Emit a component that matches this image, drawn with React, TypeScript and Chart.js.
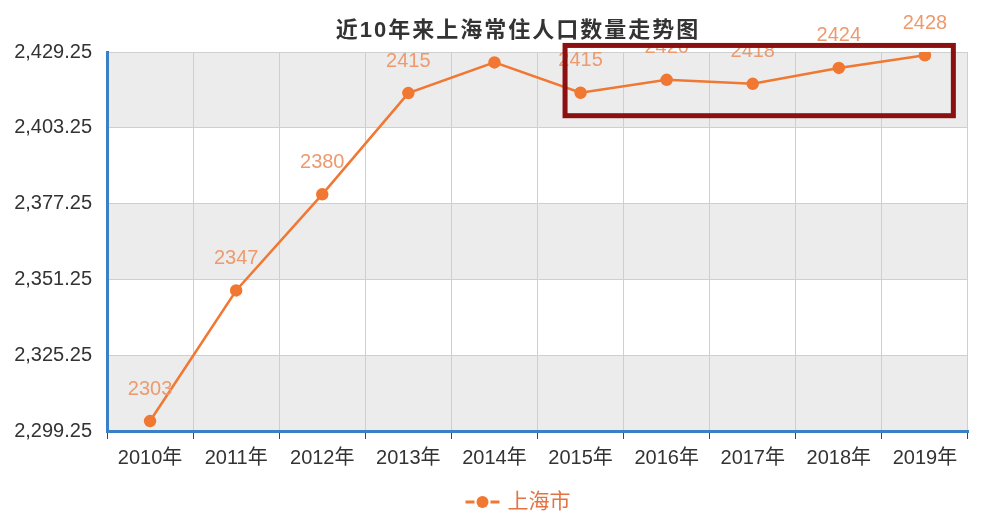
import React, { useEffect, useRef } from "react";
import { Chart, registerables } from "chart.js";

Chart.register(...registerables);

// ---- data ----
const years = ["2010年", "2011年", "2012年", "2013年", "2014年", "2015年", "2016年", "2017年", "2018年", "2019年"];
const population = [2302.66, 2347.46, 2380.43, 2415.15, 2425.68, 2415.27, 2419.7, 2418.33, 2423.78, 2428.14];
const yTicks = [2299.25, 2325.25, 2351.25, 2377.25, 2403.25, 2429.25];
const seriesName = "上海市";
const chartTitle = "近10年来上海常住人口数量走势图";
// highlighted region (category index range, value range)
const highlightX = [4.82, 9.33];
const highlightY = [2407.4, 2431.5];

const LINE = "#f07832";
const LABEL = "#ec9a6e";
const AXIS_BLUE = "#3a80c4";
const GRID = "#cfcfcf";
const BAND = "#ececec";
const TEXT = "#333333";
const FONT = "'Liberation Sans', 'Noto Sans CJK SC', sans-serif";
const CENTER_X = 518;

export default function App() {
  const ref = useRef<HTMLCanvasElement | null>(null);

  useEffect(() => {
    document.body.style.margin = "0";
    const canvas = ref.current;
    if (!canvas) return;

    const decor = {
      id: "decor",
      beforeDraw(chart: any) {
        const { ctx, chartArea } = chart;
        const y = chart.scales.y;
        ctx.save();
        for (let i = 0; i < yTicks.length - 1; i++) {
          if (i % 2 === 0) {
            const top = y.getPixelForValue(yTicks[i + 1]);
            const bot = y.getPixelForValue(yTicks[i]);
            ctx.fillStyle = BAND;
            ctx.fillRect(chartArea.left, top, chartArea.right - chartArea.left, bot - top);
          }
        }
        ctx.restore();
      },
      afterDatasetsDraw(chart: any) {
        const { ctx } = chart;
        const meta = chart.getDatasetMeta(0);
        ctx.save();
        ctx.font = `20px ${FONT}`;
        ctx.fillStyle = LABEL;
        ctx.textAlign = "center";
        ctx.textBaseline = "middle";
        meta.data.forEach((pt: any, i: number) => {
          ctx.fillText(String(Math.round(population[i])), pt.x, pt.y - 32);
        });
        ctx.restore();
      },
      afterDraw(chart: any) {
        const { ctx } = chart;
        const xs = chart.scales.x;
        const ys = chart.scales.y;
        ctx.save();
        // title with white backdrop
        ctx.font = `bold 22px ${FONT}`;
        (ctx as any).letterSpacing = "2px";
        const tw = ctx.measureText(chartTitle).width;
        ctx.fillStyle = "#ffffff";
        ctx.fillRect(CENTER_X - tw / 2 - 6, 12, tw + 12, 31);
        ctx.fillStyle = TEXT;
        ctx.textAlign = "center";
        ctx.textBaseline = "middle";
        ctx.fillText(chartTitle, CENTER_X, 31);
        (ctx as any).letterSpacing = "0px";

        // highlight box
        const x0 = xs.getPixelForValue(highlightX[0]);
        const x1 = xs.getPixelForValue(highlightX[1]);
        const y0 = ys.getPixelForValue(highlightY[1]);
        const y1 = ys.getPixelForValue(highlightY[0]);
        ctx.strokeStyle = "#8c1010";
        ctx.lineWidth = 5;
        ctx.strokeRect(x0, y0, x1 - x0, y1 - y0);

        // legend
        ctx.font = `21px ${FONT}`;
        const lw = ctx.measureText(seriesName).width;
        const total = 34 + 8 + lw;
        const lx = CENTER_X - total / 2;
        const ly = 502;
        ctx.strokeStyle = LINE;
        ctx.lineWidth = 3;
        ctx.beginPath();
        ctx.moveTo(lx, ly);
        ctx.lineTo(lx + 9, ly);
        ctx.moveTo(lx + 25, ly);
        ctx.lineTo(lx + 34, ly);
        ctx.stroke();
        ctx.fillStyle = LINE;
        ctx.beginPath();
        ctx.arc(lx + 17, ly, 6, 0, Math.PI * 2);
        ctx.fill();
        ctx.fillStyle = "#e27444";
        ctx.textAlign = "left";
        ctx.textBaseline = "middle";
        ctx.fillText(seriesName, lx + 42, ly);
        ctx.restore();
      },
    };

    const chart = new Chart(canvas, {
      type: "line",
      data: {
        labels: years,
        datasets: [
          {
            label: seriesName,
            data: population,
            borderColor: LINE,
            backgroundColor: LINE,
            borderWidth: 2.5,
            pointRadius: 5,
            pointHoverRadius: 5,
            pointBackgroundColor: LINE,
            pointBorderColor: LINE,
            tension: 0,
          },
        ],
      },
      options: {
        responsive: false,
        animation: false,
        layout: { padding: { top: 52, right: 32, left: 0, bottom: 0 } },
        plugins: {
          legend: { display: false },
          title: { display: false },
          tooltip: { enabled: false },
        },
        scales: {
          x: {
            type: "category",
            offset: true,
            afterFit: (s: any) => {
              s.height = 97;
            },
            grid: { offset: true, color: GRID, tickColor: "#444444", tickLength: 8, lineWidth: 1 },
            border: { color: AXIS_BLUE, width: 3 },
            ticks: {
              color: TEXT,
              font: { family: FONT, size: 20 },
              padding: 7,
              maxRotation: 0,
              autoSkip: false,
            },
          },
          y: {
            min: yTicks[0],
            max: yTicks[yTicks.length - 1],
            afterFit: (s: any) => {
              s.width = 107;
            },
            afterBuildTicks: (s: any) => {
              s.ticks = yTicks.map((v) => ({ value: v }));
            },
            grid: { color: GRID, drawTicks: false, lineWidth: 1 },
            border: { color: AXIS_BLUE, width: 3 },
            ticks: {
              color: TEXT,
              font: { family: FONT, size: 20 },
              padding: 15,
              callback: (v: any) =>
                Number(v).toLocaleString("en-US", { minimumFractionDigits: 2, maximumFractionDigits: 2 }),
            },
          },
        },
      },
      plugins: [decor],
    });

    return () => chart.destroy();
  }, []);

  return (
    <div style={{ width: 1000, height: 528, background: "#ffffff" }}>
      <canvas ref={ref} width={1000} height={528} style={{ display: "block" }} />
    </div>
  );
}
